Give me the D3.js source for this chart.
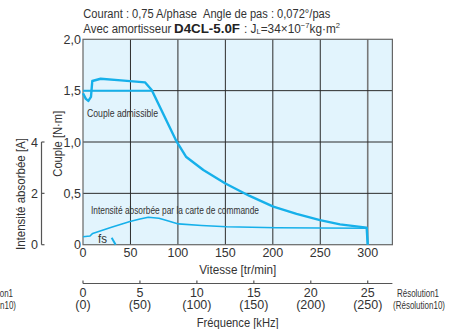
<!DOCTYPE html>
<html><head><meta charset="utf-8">
<script src="https://cdn.jsdelivr.net/npm/d3@7"></script>
<style>
html,body{margin:0;padding:0;background:#fff;}
svg{display:block;}
text{font-family:"Liberation Sans Narrow","Liberation Sans",Arial,sans-serif;fill:#333;}
</style></head>
<body><svg id="c" width="465" height="329"></svg>
<script>
// ---- data ----
const speedTicks = [0, 50, 100, 150, 200, 250, 300];
const torqueTicks = [0, 0.5, 1.0, 1.5, 2.0];
const torqueTickLabels = ["0", "0,5", "1,0", "1,5", "2,0"];
const currentTicks = [0, 2, 4];
const freqTicks = [0, 5, 10, 15, 20, 25];
const freqTickLabels = ["0", "5", "10", "15", "20", "25"];
const freqTickLabels10 = ["(0)", "(50)", "(100)", "(150)", "(200)", "(250)"];

const pulloutSpeed  = [0, 3, 5.6, 8.4, 9.8, 18.6, 40, 65.3, 72.4, 98.7, 108.5, 126.8, 149.6, 175, 200.5, 225, 249.7, 270.8, 298.9, 300];
const pulloutTorque = [1.474, 1.42, 1.40, 1.44, 1.594, 1.616, 1.60, 1.581, 1.506, 1.003, 0.857, 0.727, 0.598, 0.477, 0.37, 0.30, 0.24, 0.198, 0.166, 0];

const allowSpeed  = [0, 72.4];
const allowTorque = [1.5, 1.5];

const currentSpeed = [0, 7.4, 10.2, 30, 49.5, 60, 68.8, 80, 90, 100.5, 125, 151.4, 204, 250, 299, 300];
const currentAmps  = [0.31, 0.34, 0.44, 0.68, 0.9, 1.0, 1.07, 1.03, 0.92, 0.81, 0.75, 0.70, 0.66, 0.65, 0.64, 0];

const fsSpeed  = [30.2, 34.4];
const fsTorque = [0.068, 0];

// ---- layout ----
const svg = d3.select("#c");
const X0 = 83, X1 = 392.4, Y0 = 244.7, Y1 = 39.3;
const x = d3.scaleLinear().domain([0, 326]).range([X0, X1]);
const y = d3.scaleLinear().domain([0, 2]).range([Y0, Y1]);
const yc = d3.scaleLinear().domain([0, 4]).range([Y0, y(1.0)]);
const xf = d3.scaleLinear().domain([0, 25]).range([x(0), x(300)]);
const blue = "#16b0ea";

// background
svg.append("rect").attr("x", X0).attr("y", Y1).attr("width", X1 - X0).attr("height", Y0 - Y1)
  .attr("fill", "#e2f4fd");

// grid
const g = svg.append("g");
speedTicks.filter(d => d > 0 && d < 300).forEach(d => {
  g.append("line").attr("x1", x(d)).attr("x2", x(d)).attr("y1", Y1).attr("y2", Y0)
    .attr("stroke", "#2b2b2b").attr("stroke-width", 1);
});
g.append("line").attr("x1", x(300)).attr("x2", x(300)).attr("y1", Y1).attr("y2", Y0)
  .attr("stroke", "#777").attr("stroke-width", 1.6);
torqueTicks.filter(d => d > 0 && d < 2).forEach(d => {
  g.append("line").attr("x1", X0).attr("x2", X1).attr("y1", y(d)).attr("y2", y(d))
    .attr("stroke", "#2b2b2b").attr("stroke-width", 1);
});
svg.append("rect").attr("x", X0).attr("y", Y1).attr("width", X1 - X0).attr("height", Y0 - Y1)
  .attr("fill", "none").attr("stroke", "#666").attr("stroke-width", 1.2);

// curves
const line = d3.line().x(d => x(d[0])).y(d => d[1]);
svg.append("path").datum(allowSpeed.map((s, i) => [s, y(allowTorque[i])]))
  .attr("d", line).attr("fill", "none").attr("stroke", blue).attr("stroke-width", 2);
svg.append("path").datum(currentSpeed.map((s, i) => [s, yc(currentAmps[i])]))
  .attr("d", line).attr("fill", "none").attr("stroke", blue).attr("stroke-width", 1.6).attr("stroke-linejoin", "round");
svg.append("path").datum(pulloutSpeed.map((s, i) => [s, y(pulloutTorque[i])]))
  .attr("d", line).attr("fill", "none").attr("stroke", blue).attr("stroke-width", 2.4).attr("stroke-linejoin", "round");
svg.append("path").datum(fsSpeed.map((s, i) => [s, y(fsTorque[i])]))
  .attr("d", line).attr("fill", "none").attr("stroke", blue).attr("stroke-width", 2);

function fit(sel, len) { return sel.attr("textLength", len).attr("lengthAdjust", "spacingAndGlyphs"); }

// in-plot labels
fit(svg.append("text").attr("x", 87).attr("y", 117).attr("font-size", 11.5), 71).text("Couple admissible");
fit(svg.append("text").attr("x", 91).attr("y", 213.5).attr("font-size", 11.5), 168).text("Intensité absorbée par la carte de commande");
fit(svg.append("text").attr("x", 98).attr("y", 243).attr("font-size", 12.5), 9).text("fs");

// left torque axis labels
torqueTicks.forEach((d, i) => {
  svg.append("text").attr("x", 81).attr("y", y(d) + 4.5).attr("text-anchor", "end")
    .attr("font-size", 12.5).text(torqueTickLabels[i]);
});
fit(svg.append("text").attr("transform", `translate(61.5,176.7) rotate(-90)`)
  .attr("font-size", 12.5), 66).text("Couple [N·m]");

// current axis
svg.append("line").attr("x1", 41.5).attr("x2", 41.5).attr("y1", yc(4)).attr("y2", yc(0)).attr("stroke", "#555").attr("stroke-width", 1.2);
currentTicks.forEach(d => {
  svg.append("line").attr("x1", 41.5).attr("x2", 44.5).attr("y1", yc(d)).attr("y2", yc(d)).attr("stroke", "#555").attr("stroke-width", 1.2);
  svg.append("text").attr("x", 38).attr("y", yc(d) + 4.5).attr("text-anchor", "end").attr("font-size", 12.5).text(d);
});
fit(svg.append("text").attr("transform", `translate(24.5,250) rotate(-90)`)
  .attr("font-size", 12.5), 112).text("Intensité absorbée [A]");

// speed axis labels
speedTicks.forEach(d => {
  svg.append("text").attr("x", x(d)).attr("y", 257).attr("text-anchor", "middle").attr("font-size", 12.5).text(d);
});
fit(svg.append("text").attr("x", 199.3).attr("y", 273.5).attr("font-size", 12.5), 77).text("Vitesse [tr/min]");

// frequency axis
const FY = 283.5;
svg.append("line").attr("x1", X0).attr("x2", X1).attr("y1", FY).attr("y2", FY).attr("stroke", "#555").attr("stroke-width", 1.2);
freqTicks.forEach((d, i) => {
  svg.append("line").attr("x1", xf(d)).attr("x2", xf(d)).attr("y1", FY - 3).attr("y2", FY).attr("stroke", "#555").attr("stroke-width", 1.2);
  svg.append("text").attr("x", xf(d)).attr("y", 296.5).attr("text-anchor", "middle").attr("font-size", 12.5).text(freqTickLabels[i]);
  svg.append("text").attr("x", xf(d)).attr("y", 309).attr("text-anchor", "middle").attr("font-size", 12.5).text(freqTickLabels10[i]);
});
fit(svg.append("text").attr("x", 196.7).attr("y", 327).attr("font-size", 12.5), 82).text("Fréquence [kHz]");
[[397, 393], [-29, -36]].forEach(([l1, l2]) => {
  fit(svg.append("text").attr("x", l1).attr("y", 296.5).attr("font-size", 10.5), 42).text("Résolution1");
  fit(svg.append("text").attr("x", l2).attr("y", 309).attr("font-size", 10.5), 52).text("(Résolution10)");
});

// title
fit(svg.append("text").attr("x", 83.3).attr("y", 18).attr("font-size", 12.5), 247)
  .text("Courant : 0,75 A/phase\u00a0\u00a0Angle de pas : 0,072°/pas");
fit(svg.append("text").attr("x", 83.3).attr("y", 32.5).attr("font-size", 12.5), 88).text("Avec amortisseur");
fit(svg.append("text").attr("x", 174).attr("y", 32.5).attr("font-size", 13).attr("font-weight", "bold")
  .attr("font-family", "'Liberation Sans',Arial,sans-serif").style("fill", "#222"), 66).text("D4CL-5.0F");
const t2 = fit(svg.append("text").attr("x", 244).attr("y", 32.5).attr("font-size", 12.5), 96);
t2.append("tspan").text(": J");
t2.append("tspan").attr("font-size", 8).attr("dy", 1.5).text("L");
t2.append("tspan").attr("dy", -1.5).text("=34×10");
t2.append("tspan").attr("font-size", 8).attr("dy", -5).text("−7");
t2.append("tspan").attr("dy", 5).text("kg·m");
t2.append("tspan").attr("font-size", 8).attr("dy", -5).text("2");
</script></body></html>
